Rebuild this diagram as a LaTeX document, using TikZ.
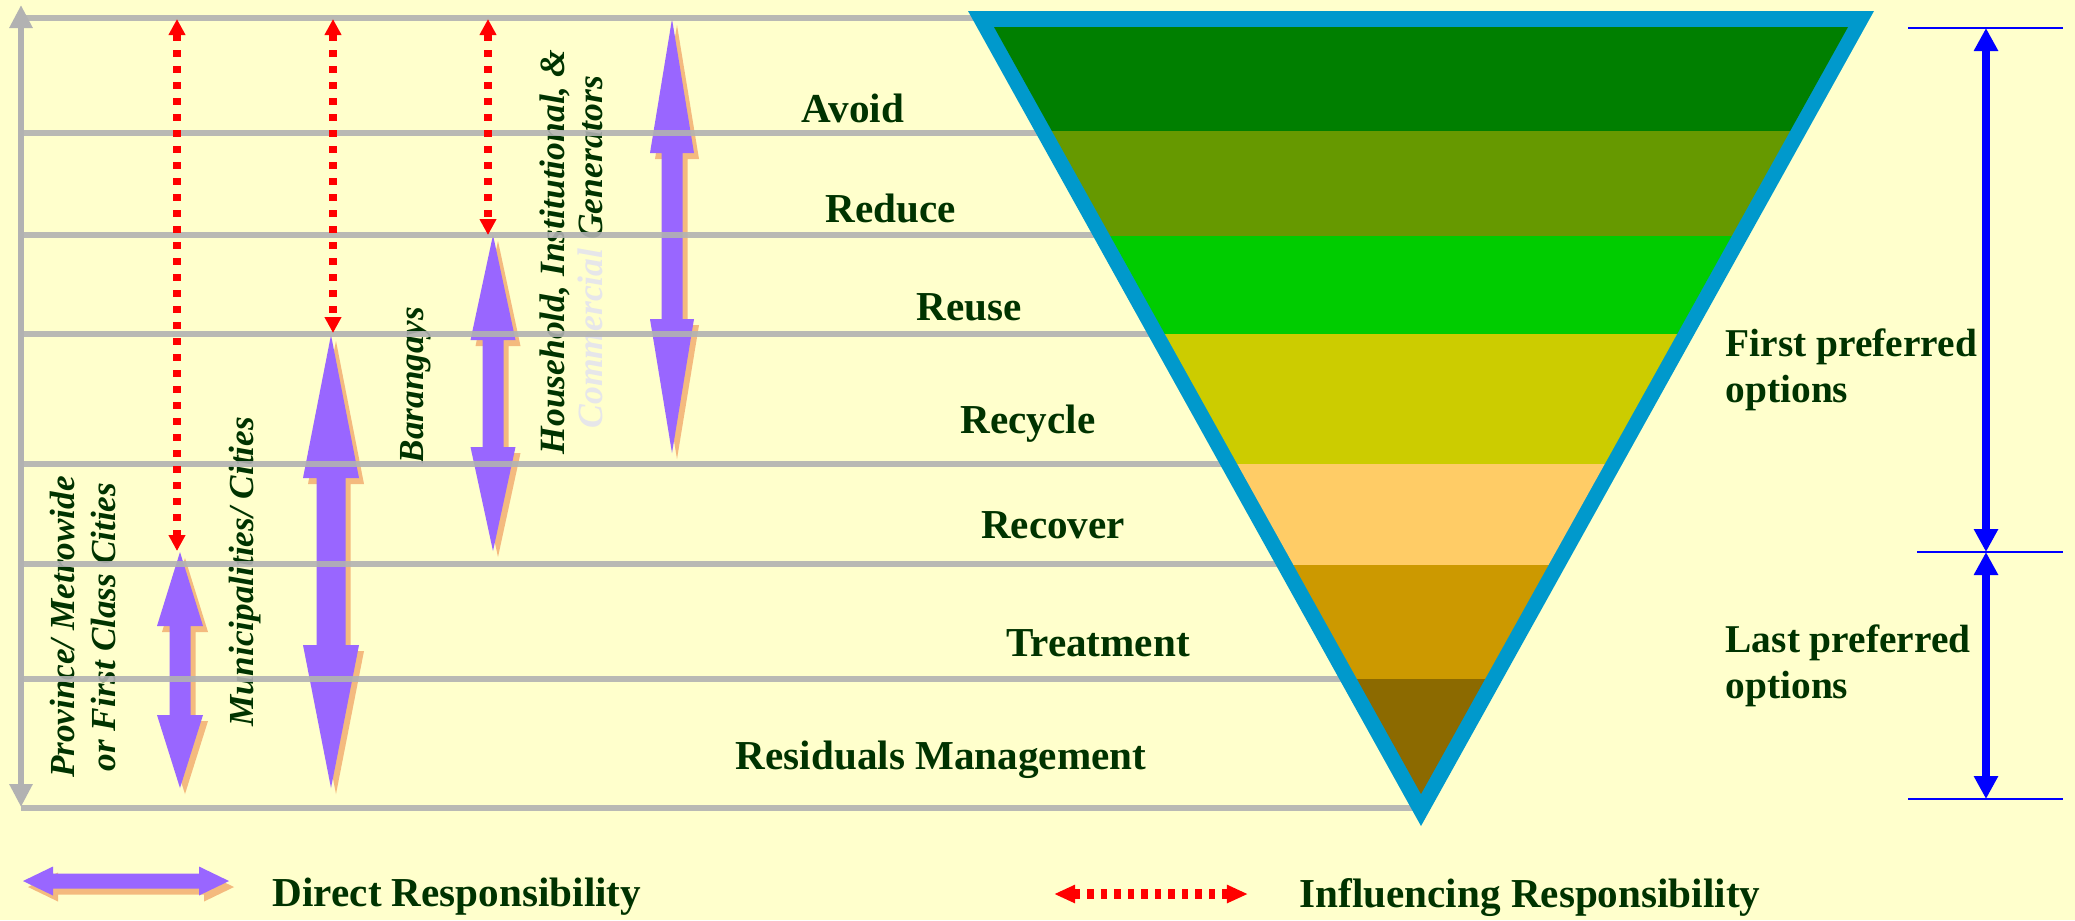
\documentclass[tikz,border=0pt]{standalone}
\usepackage{fontspec}
\setmainfont{Liberation Serif}
\usetikzlibrary{arrows.meta}
\definecolor{bg}{HTML}{FFFFCC}
\definecolor{txt}{HTML}{003300}
\definecolor{gline}{HTML}{B2B2B2}
\definecolor{purp}{HTML}{9966FF}
\definecolor{shad}{HTML}{F4BA7E}
\definecolor{tribl}{HTML}{0099CC}
\definecolor{bandA}{HTML}{007F00}
\definecolor{bandB}{HTML}{669900}
\definecolor{bandC}{HTML}{00CC00}
\definecolor{bandD}{HTML}{CCCC00}
\definecolor{bandE}{HTML}{FFCC66}
\definecolor{bandF}{HTML}{CC9900}
\definecolor{bandG}{HTML}{8C6A00}
\definecolor{lightgr}{HTML}{E6E6EA}
\newcommand{\vpurple}[7]{%
  \foreach \dx/\dy/\col in {5/6/shad,0/0/purp}{%
    \fill[\col,shift={(\dx,\dy)}] (#1,#2) -- ({#1+#6},#3) -- ({#1+#7},#3) -- ({#1+#7},#4) -- ({#1+#6},#4) -- (#1,#5)
      -- ({#1-#6},#4) -- ({#1-#7},#4) -- ({#1-#7},#3) -- ({#1-#6},#3) -- cycle;}}
\begin{document}
\begin{tikzpicture}[x=0.01cm,y=-0.01cm,
  lvl/.style={text=txt,font=\fontsize{11.7}{14}\selectfont\bfseries,inner sep=0pt},
  side/.style={text=txt,font=\fontsize{11.2}{13.1}\selectfont\bfseries,inner sep=0pt,align=left,anchor=west},
  vlab/.style={text=txt,font=\fontsize{10}{11.4}\selectfont\bfseries\itshape,inner sep=0pt,rotate=90,align=center},
  gridline/.style={gline,line width=0.06cm},
  infl/.style={red,line width=0.08cm,dash pattern=on 0.07cm off 0.09cm,{Triangle[length=0.16cm,width=0.16cm]}-{Triangle[length=0.16cm,width=0.16cm]}},
  dimarrow/.style={blue,line width=0.075cm,{Triangle[length=0.23cm,width=0.23cm]}-{Triangle[length=0.23cm,width=0.23cm]}},
  tick/.style={blue,line width=0.02cm}]
\fill[bg] (0,0) rectangle (2075,920);
\useasboundingbox (0,0) rectangle (2075,920);

% rotated labels (under the lines)
\node[vlab] (prov) at (83,627) {Province/ Metrowide\\or First Class Cities};
\node[vlab] (muni) at (245,572) {Municipalities/ Cities};
\node[vlab] (bara) at (416,385) {Barangays};
\node[vlab,font=\fontsize{10.1}{10.8}\selectfont\bfseries\itshape] (hous) at (571,252)
  {Household, Institutional, \&\\{\color{lightgr}Commercial} Generators};

% direct responsibility arrows
\vpurple{180}{552}{626}{715}{788}{23}{10.5}
\vpurple{331}{335}{478}{645}{788}{28}{14.5}
\vpurple{493}{235}{340}{447}{551}{22.5}{10.5}
\vpurple{672}{19}{153}{319}{453}{22}{10.5}

% grid lines
\foreach \yy in {18,133,235,334,464,564,679,808}
  \draw[gridline,opacity=0.9] (21,\yy) -- (1415,\yy);
\draw[gridline,{Triangle[length=0.23cm,width=0.22cm]}-{Triangle[length=0.23cm,width=0.22cm]}] (21,5) -- (21,807);

% inverted triangle
\fill[tribl] (968,11) -- (1874,11) -- (1421,826) -- cycle;
\begin{scope}
  \clip (994,27) -- (1848,27) -- (1421,794) -- cycle;
  \fill[bandA] (950,20) rectangle (1900,131);
  \fill[bandB] (950,131) rectangle (1900,236);
  \fill[bandC] (950,236) rectangle (1900,334);
  \fill[bandD] (950,334) rectangle (1900,464);
  \fill[bandE] (950,464) rectangle (1900,565);
  \fill[bandF] (950,565) rectangle (1900,679);
  \fill[bandG] (950,679) rectangle (1900,800);
\end{scope}

% influencing arrows
\coordinate (i1t) at (177,19); \coordinate (i1b) at (177,551);
\coordinate (i2t) at (333,19); \coordinate (i2b) at (333,333);
\coordinate (i3t) at (488,19); \coordinate (i3b) at (488,235);
\draw[infl] (i1t) -- (i1b);
\draw[infl] (i2t) -- (i2b);
\draw[infl] (i3t) -- (i3b);

% level labels
\node[lvl] (avoid) at (853,108) {Avoid};
\node[lvl] (reduce) at (891,208) {Reduce};
\node[lvl] (reuse) at (969,307) {Reuse};
\node[lvl] (recycle) at (1028,424) {Recycle};
\node[lvl] (recover) at (1053,525) {Recover};
\node[lvl] (treat) at (1098,643) {Treatment};
\node[lvl] (resid) at (941,760) {Residuals Management};

% right side
\coordinate (d1) at (1986,28); \coordinate (d2) at (1986,552); \coordinate (d3) at (1986,799);
\draw[tick] (1908,28) -- (2063,28);
\draw[tick] (1917,552) -- (2063,552);
\draw[tick] (1908,799) -- (2063,799);
\draw[dimarrow] (d1) -- (d2);
\draw[dimarrow] (d2) -- (d3);
\node[side] (first) at (1725,370) {First preferred\\options};
\node[side] (last) at (1725,666) {Last preferred\\options};

% legend
\fill[shad,shift={(5,6)}] (23,881) -- (53,866.5) -- (53,873.5) -- (199,873.5) -- (199,866.5) -- (229,881) -- (199,895.5) -- (199,888.5) -- (53,888.5) -- (53,895.5) -- cycle;
\fill[purp] (23,881) -- (53,866.5) -- (53,873.5) -- (199,873.5) -- (199,866.5) -- (229,881) -- (199,895.5) -- (199,888.5) -- (53,888.5) -- (53,895.5) -- cycle;
\node[lvl] (direct) at (457,897) {Direct Responsibility};
\coordinate (la) at (1054,894); \coordinate (lb) at (1248,894);
\draw[red,line width=0.1cm,dash pattern=on 0.065cm off 0.07cm,{Triangle[length=0.21cm,width=0.17cm]}-{Triangle[length=0.21cm,width=0.17cm]}] (la) -- (lb);
\node[lvl] (influ) at (1530,898) {Influencing Responsibility};
\end{tikzpicture}
\end{document}
